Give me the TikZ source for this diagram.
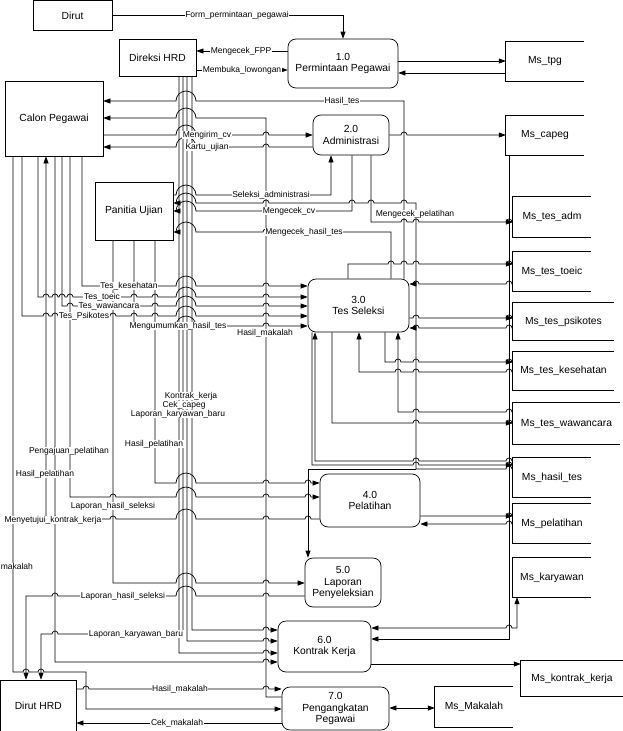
\documentclass[tikz,border=0pt]{standalone}
\usepackage{fontspec}
\setmainfont{Liberation Sans}
\usetikzlibrary{arrows.meta}
\newcommand\hopR[2]{foreach \hpx/\hpr in {#2} { -- ({\hpx-\hpr},#1) arc[start angle=180,end angle=360,radius=\hpr] }}
\newcommand\hopL[2]{foreach \hpx/\hpr in {#2} { -- ({\hpx+\hpr},#1) arc[start angle=0,end angle=-180,radius=\hpr] }}
\tikzset{
 ent/.style={draw, line width=0.7pt, font=\fontsize{10.3}{12}\selectfont, inner sep=0pt},
 proc/.style={draw, rounded corners=8pt, line width=0.7pt, align=center, font=\fontsize{10.3}{11.5}\selectfont, inner sep=0pt},
 store/.style={inner sep=0pt, font=\fontsize{10.3}{12}\selectfont},
 flow/.style={line width=0.7pt},
 arr/.style={flow, -{Triangle[length=7pt,width=5pt]}},
 darr/.style={flow, {Triangle[length=7pt,width=5pt]}-{Triangle[length=7pt,width=5pt]}},
 lbl/.style={fill=white, inner xsep=0.6pt, inner ysep=0.3pt, font=\fontsize{8.5}{9}\selectfont},
}
\begin{document}
\begin{tikzpicture}[x=1pt,y=-1pt]
\useasboundingbox (0,0) rectangle (623,731);
% external entities
\node[ent, minimum width=79pt, minimum height=30pt] (dirut) at (72.5,15.5) {Dirut};
\node[ent, minimum width=77pt, minimum height=37pt] (dhrd) at (157.5,57.5) {Direksi HRD};
\node[ent, minimum width=98pt, minimum height=75pt] (calon) at (54,118.5) {Calon Pegawai};
\node[ent, minimum width=78pt, minimum height=58pt] (panitia) at (134,211) {Panitia Ujian};
\node[ent, minimum width=75.5pt, minimum height=51pt] (dirhrd) at (38.25,705.5) {Dirut HRD};
% processes
\node[proc, minimum width=110pt, minimum height=49pt] (p1) at (343,63.5) {1.0\\Permintaan Pegawai};
\node[proc, minimum width=76pt, minimum height=40pt] (p2) at (351,135) {2.0\\Administrasi};
\node[proc, minimum width=101pt, minimum height=53pt] (p3) at (358.5,305.5) {3.0\\Tes Seleksi};
\node[proc, minimum width=100pt, minimum height=53pt] (p4) at (370,500.5) {4.0\\Pelatihan};
\node[proc, minimum width=76pt, minimum height=49pt] (p5) at (343,582.5) {5.0\\Laporan\\Penyeleksian};
\node[proc, minimum width=93pt, minimum height=51pt] (p6) at (324.5,646.5) {6.0\\Kontrak Kerja};
\node[proc, minimum width=107pt, minimum height=43pt] (p7) at (335.5,708.5) {7.0\\Pengangkatan\\Pegawai};
% data stores
\node[store, minimum width=78pt, minimum height=39pt] (stpg) at (545,61.5) {Ms\_tpg};
\node[store, minimum width=78pt, minimum height=39pt] (scapeg) at (545,135.5) {Ms\_capeg};
\node[store, minimum width=78pt, minimum height=40pt] (sadm) at (552,217) {Ms\_tes\_adm};
\node[store, minimum width=78pt, minimum height=39pt] (stoeic) at (552,271.5) {Ms\_tes\_toeic};
\node[store, minimum width=101pt, minimum height=37pt] (spsi) at (563.5,321.5) {Ms\_tes\_psikotes};
\node[store, minimum width=101pt, minimum height=38pt] (skes) at (563.5,371) {Ms\_tes\_kesehatan};
\node[store, minimum width=107pt, minimum height=41pt] (swaw) at (566.5,423.5) {Ms\_tes\_wawancara};
\node[store, minimum width=78pt, minimum height=39pt] (shasil) at (552,477.5) {Ms\_hasil\_tes};
\node[store, minimum width=78pt, minimum height=39pt] (spel) at (552,523.5) {Ms\_pelatihan};
\node[store, minimum width=78pt, minimum height=39pt] (skar) at (552,577.5) {Ms\_karyawan};
\node[store, minimum width=102pt, minimum height=35pt] (skon) at (572,678.5) {Ms\_kontrak\_kerja};
\node[store, minimum width=78pt, minimum height=40pt] (smak) at (474,707) {Ms\_Makalah};
\foreach \s in {stpg,scapeg,sadm,stoeic,spsi,skes,swaw,shasil,spel,skar,skon,smak}
  \draw[flow] (\s.north east) -- (\s.north west) -- (\s.south west) -- (\s.south east);
% flows
\draw[arr] (dirut.east) -- (343,15.5) -- (p1.north);
\draw[arr] (p1.west |- 0,51) -- (dhrd.east |- 0,51);
\draw[arr] (dhrd.east |- 0,70) -- (p1.west |- 0,70);
\draw[arr] (p1.east |- 0,61) -- (stpg.west |- 0,61);
\draw[arr] (stpg.west |- 0,73) -- (p1.east |- 0,73);
\draw[arr] (p3.north -| 404,0) -- (404,101) \hopL{101}{186/10} -- (calon.east |- 0,101);
\draw[arr] (p7.west |- 0,697) -- (266,697) -- (266,118) \hopL{118}{186/10} -- (calon.east |- 0,118);
\draw[arr] (calon.east |- 0,135) \hopR{135}{186/10,266/3} -- (p2.west |- 0,135);
\draw[arr] (p2.west |- 0,147) \hopL{147}{266/3,186/10} -- (calon.east |- 0,147);
\draw[arr] (p2.east) \hopR{135}{404/3} -- (scapeg.west |- p2.east);
\draw[arr] (panitia.east |- 0,195) \hopR{195}{186/10,266/3} -- (331,195) -- (p2.south -| 331,0);
\draw[arr] (shasil.west |- 0,469) \hopL{469}{509/3} -- (416,469) -- (416,203) \hopL{203}{404/3,371/3,352/3,266/3,186/10} -- (panitia.east |- 0,203);
\draw[arr] (416,469) -- (308,469) -- (p5.north -| 308,0);
\draw[arr] (p2.south -| 352,0) -- (352,211) \hopL{211}{266/3,186/10} -- (panitia.east |- 0,211);
\draw[arr] (p2.south -| 371,0) -- (371,222) \hopR{222}{404/3,416/3,509/3} -- (sadm.west |- 0,222);
\draw[arr] (p3.north -| 391,0) -- (391,232) \hopL{232}{266/3,186/10} -- (panitia.east |- 0,232);
\draw[arr] (p3.north -| 348,0) -- (348,264) \hopR{264}{391/3,404/3,416/3,509/3} -- (stoeic.west |- 0,264);
\draw[arr] (stoeic.west |- 0,284) \hopL{284}{509/3,416/3} -- (p3.east |- 0,284);
\draw[arr] (p3.east |- 0,318) \hopR{318}{416/3,509/3} -- (spsi.west |- 0,318);
\draw[arr] (spsi.west |- 0,328) \hopL{328}{509/3,416/3} -- (p3.east |- 0,328);
\draw[arr] (p3.south -| 385,0) -- (385,362) \hopR{362}{398/3,416/3,509/3} -- (skes.west |- 0,362);
\draw[arr] (skes.west |- 0,372) \hopL{372}{509/3,416/3,398/3} -- (359,372) -- (p3.south -| 359,0);
\draw[arr] (swaw.west |- 0,412) \hopL{412}{509/3,416/3} -- (398,412) -- (p3.south -| 398,0);
\draw[arr] (p3.south -| 332,0) -- (332,423) \hopR{423}{416/3,509/3} -- (swaw.west |- 0,423);
\draw[arr] (p3.south -| 312,0) -- (312,465) \hopR{465}{416/3,509/3} -- (shasil.west |- 0,465);
\draw[arr] (shasil.west |- 0,461) \hopL{461}{509/3,416/3} -- (315,461) -- (p3.south -| 315,0);
\draw[arr] (calon.south -| 82,0) -- (82,286) \hopR{286}{113/3,134/3,155/3,186/10,266/3} -- (p3.west |- 0,286);
\draw[arr] (calon.south -| 38,0) -- (38,297) \hopR{297}{46/3,55/3,62/3,70/3,113/3,134/3,155/3,186/10,266/3} -- (p3.west |- 0,297);
\draw[arr] (calon.south -| 62,0) -- (62,306) \hopR{306}{70/3,113/3,134/3,155/3,186/10,266/3} -- (p3.west |- 0,306);
\draw[arr] (calon.south -| 22,0) -- (22,316) \hopR{316}{46/3,55/3,70/3,113/3,134/3,155/3,186/10,266/3} -- (p3.west |- 0,316);
\draw[arr] (panitia.south -| 134,0) -- (134,326) \hopR{326}{155/3,186/10,266/3} -- (p3.west |- 0,326);
\draw[arr] (panitia.south -| 155,0) -- (155,483) \hopR{483}{186/10,266/3,308/3} -- (p4.west |- 0,483);
\draw[arr] (calon.south -| 70,0) -- (70,497) \hopR{497}{113/3,186/10,266/3,308/3} -- (p4.west |- 0,497);
\draw[arr] (p4.west |- 0,519) \hopL{519}{308/3,266/3,186/10,113/3,55/3} -- (46,519) -- (calon.south -| 46,0);
\draw[arr] (calon.south -| 55,0) -- (55,662) \hopR{662}{266/3} -- (p6.west |- 0,662);
\draw[arr] (panitia.south -| 113,0) -- (113,583) \hopR{583}{186/10,266/3} -- (p5.west |- 0,583);
\draw[arr] (p5.west |- 0,596) \hopL{596}{266/3,186/10,55/3} -- (26,596) -- (dirhrd.north -| 26,0);
\draw[arr] (dhrd.south -| 183,0) -- (183,634) \hopL{634}{55/3} -- (41,634) -- (dirhrd.north -| 41,0);
\draw[arr] (dhrd.south -| 192,0) -- (192,630) \hopR{630}{266/3} -- (p6.west |- 0,630);
\draw[arr] (dhrd.south -| 187,0) -- (187,641) \hopR{641}{266/3} -- (p6.west |- 0,641);
\draw[arr] (dhrd.south -| 179,0) -- (179,653) \hopR{653}{266/3} -- (p6.west |- 0,653);
\draw[arr] (calon.south -| 13,0) -- (13,672) \hopR{672}{26/3,41/3} -- (86,672) -- (86,709) -- (p7.west |- 0,709);
\draw[arr] (dirhrd.east |- 0,689) \hopR{689}{86/3,266/3} -- (p7.west |- 0,689);
\draw[arr] (p7.west |- 0,723) -- (dirhrd.east |- 0,723);
\draw[darr] (p7.east |- 0,708) -- (smak.west |- 0,708);
\draw[arr] (p6.east |- 0,664) -- (skon.west |- 0,664);
\draw[arr] (scapeg.south -| 509,0) -- (509,639) -- (p6.east |- 0,639);
\draw[darr] (p6.east |- 0,628) \hopR{628}{509/3} -- (517,628) -- (skar.south -| 517,0);
\draw[arr] (p4.east |- 0,516) \hopR{516}{509/3} -- (spel.west |- 0,516);
\draw[arr] (spel.west |- 0,524) \hopL{524}{509/3} -- (p4.east |- 0,524);
% labels
\node[lbl] (l1) at (237,15.5) {Form\_permintaan\_pegawai};
\node[lbl] (l2) at (241,51) {Mengecek\_FPP};
\node[lbl] (l3) at (242,70) {Membuka\_lowongan};
\node[lbl] (l6) at (342,101) {Hasil\_tes};
\node[lbl] (l8) at (207,135) {Mengirim\_cv};
\node[lbl] (l9) at (207,147) {Kartu\_ujian};
\node[lbl] (l11) at (271,195) {Seleksi\_administrasi};
\node[lbl] (l13) at (289,211) {Mengecek\_cv};
\node[lbl] (l14) at (415,214) {Mengecek\_pelatihan};
\node[lbl] (l15) at (304,232) {Mengecek\_hasil\_tes};
\node[lbl] (l26) at (129,286) {Tes\_kesehatan};
\node[lbl] (l27) at (102,297) {Tes\_toeic};
\node[lbl] (l28) at (109,306) {Tes\_wawancara};
\node[lbl] (l29) at (84,316) {Tes\_Psikotes};
\node[lbl] (l30) at (178,326) {Mengumumkan\_hasil\_tes};
\node[lbl] (l7) at (265,333) {Hasil\_makalah};
\node[lbl] (l38) at (191,396) {Kontrak\_kerja};
\node[lbl] (l39) at (184,405) {Cek\_capeg};
\node[lbl] (l40) at (178,414) {Laporan\_karyawan\_baru};
\node[lbl] (l31) at (154,444) {Hasil\_pelatihan};
\node[lbl] (l32) at (69,451) {Pengajuan\_pelatihan};
\node[lbl] (l33) at (45,474) {Hasil\_pelatihan};
\node[lbl] (l35) at (113,506) {Laporan\_hasil\_seleksi};
\node[lbl] (l34) at (53,520) {Menyetujui\_kontrak\_kerja};
\node[lbl, anchor=west] (l41) at (0,566) {makalah};
\node[lbl] (l36) at (123,596) {Laporan\_hasil\_seleksi};
\node[lbl] (l37) at (136,634) {Laporan\_karyawan\_baru};
\node[lbl] (l42) at (180,689) {Hasil\_makalah};
\node[lbl] (l43) at (177,723) {Cek\_makalah};
\end{tikzpicture}
\end{document}
